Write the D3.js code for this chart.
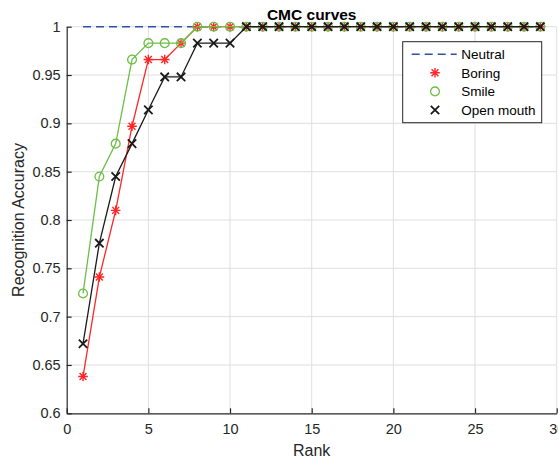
<!DOCTYPE html>
<html>
<head>
<meta charset="utf-8">
<script src="https://cdn.jsdelivr.net/npm/d3@7"></script>
<style>
  body { margin: 0; background: #fff; }
  svg { display: block; font-family: "Liberation Sans", Arial, sans-serif; }
</style>
</head>
<body>
<div id="chart"></div>
<script>
// Rank values 1..29
const ranks = [1,2,3,4,5,6,7,8,9,10,11,12,13,14,15,16,17,18,19,20,21,22,23,24,25,26,27,28,29];

// Recognition accuracy per rank
const neutral   = [1,1,1,1,1,1,1,1,1,1,1,1,1,1,1,1,1,1,1,1,1,1,1,1,1,1,1,1,1];
const boring    = [0.638,0.741,0.810,0.897,0.966,0.966,0.983,1,1,1,1,1,1,1,1,1,1,1,1,1,1,1,1,1,1,1,1,1,1];
const smile     = [0.724,0.845,0.879,0.966,0.983,0.983,0.983,1,1,1,1,1,1,1,1,1,1,1,1,1,1,1,1,1,1,1,1,1,1];
const openMouth = [0.672,0.776,0.845,0.879,0.914,0.948,0.948,0.983,0.983,0.983,1,1,1,1,1,1,1,1,1,1,1,1,1,1,1,1,1,1,1];

const xTicks = [0, 5, 10, 15, 20, 25, 30];
const yTicks = [0.6, 0.65, 0.7, 0.75, 0.8, 0.85, 0.9, 0.95, 1];
const yTickLabels = ["0.6", "0.65", "0.7", "0.75", "0.8", "0.85", "0.9", "0.95", "1"];

const seriesNames = ["Neutral", "Boring", "Smile", "Open mouth"];

const W = 558, H = 463;
const margin = { top: 26.7, right: 1.3, bottom: 49.7, left: 66.7 };
const width = W - margin.left - margin.right;
const height = H - margin.top - margin.bottom;

const svg = d3.select("#chart").append("svg")
    .attr("width", W)
    .attr("height", H);

const g = svg.append("g")
    .attr("transform", `translate(${margin.left}, ${margin.top})`);

const x = d3.scaleLinear().domain([0, 30]).range([0, width]);
const y = d3.scaleLinear().domain([0.6, 1]).range([height, 0]);

const axisColor = "#262626";
const gridColor = "#dfdfdf";

// Grid lines
g.append("g").selectAll("line.vgrid")
    .data(xTicks.slice(1))
    .enter().append("line")
    .attr("x1", d => x(d)).attr("x2", d => x(d))
    .attr("y1", 0).attr("y2", height)
    .attr("stroke", gridColor).attr("stroke-width", 1);

g.append("g").selectAll("line.hgrid")
    .data(yTicks.slice(1))
    .enter().append("line")
    .attr("x1", 0).attr("x2", width)
    .attr("y1", d => y(d)).attr("y2", d => y(d))
    .attr("stroke", gridColor).attr("stroke-width", 1);

// Axes (ticks point inward like MATLAB)
const xAxis = g.append("g")
    .attr("transform", `translate(0, ${height})`)
    .call(d3.axisBottom(x).tickValues(xTicks).tickSize(-5).tickPadding(10).tickSizeOuter(0));

const yAxis = g.append("g")
    .call(d3.axisLeft(y).tickValues(yTicks).tickSize(-5).tickPadding(6).tickSizeOuter(0)
        .tickFormat((d, i) => yTickLabels[i]));

[xAxis, yAxis].forEach(a => {
    a.select(".domain").attr("stroke", axisColor).attr("stroke-width", 1.2);
    a.selectAll(".tick line").attr("stroke", axisColor).attr("stroke-width", 1.2);
    a.selectAll(".tick text")
        .attr("fill", axisColor)
        .style("font-size", "14.5px")
        .style("font-family", "'Liberation Sans', Arial, sans-serif");
});
xAxis.selectAll(".tick text").attr("dy", "0.71em");

// Axis labels and title
g.append("text")
    .attr("x", width / 2)
    .attr("y", height + 43)
    .attr("text-anchor", "middle")
    .attr("fill", axisColor)
    .style("font-size", "16px")
    .text("Rank");

g.append("text")
    .attr("transform", `translate(${-43}, ${height / 2}) rotate(-90)`)
    .attr("text-anchor", "middle")
    .attr("fill", axisColor)
    .style("font-size", "16px")
    .text("Recognition Accuracy");

g.append("text")
    .attr("x", width / 2)
    .attr("y", -7)
    .attr("text-anchor", "middle")
    .attr("fill", "#000")
    .style("font-size", "15.5px")
    .style("font-weight", "bold")
    .text("CMC curves");

// Marker shapes
function drawMarker(sel, type, color) {
    if (type === "star") {
        const r = 4.8, rd = r * 0.72;
        const p = `M${-r},0L${r},0M0,${-r}L0,${r}M${-rd},${-rd}L${rd},${rd}M${-rd},${rd}L${rd},${-rd}`;
        sel.append("path").attr("d", p).attr("stroke", color).attr("stroke-width", 1.4).attr("fill", "none");
    } else if (type === "circle") {
        sel.append("circle").attr("r", 4.4).attr("stroke", color).attr("stroke-width", 1.3).attr("fill", "none");
    } else if (type === "x") {
        const r = 4.2;
        sel.append("path").attr("d", `M${-r},${-r}L${r},${r}M${-r},${r}L${r},${-r}`)
            .attr("stroke", color).attr("stroke-width", 1.8).attr("fill", "none");
    }
}

const series = [
    { name: seriesNames[0], values: neutral,   color: "#3050a5", dash: "8,5", marker: null },
    { name: seriesNames[1], values: boring,    color: "#ff2626", dash: null,  marker: "star" },
    { name: seriesNames[2], values: smile,     color: "#6cbf45", dash: null,  marker: "circle" },
    { name: seriesNames[3], values: openMouth, color: "#1a1a1a", dash: null,  marker: "x" }
];

const line = d3.line()
    .x((d, i) => x(ranks[i]))
    .y(d => y(d));

series.forEach(s => {
    g.append("path")
        .datum(s.values)
        .attr("d", line)
        .attr("fill", "none")
        .attr("stroke", s.color)
        .attr("stroke-width", s.dash ? 1.6 : 1.3)
        .attr("stroke-dasharray", s.dash);

    if (s.marker) {
        g.append("g").selectAll("g")
            .data(s.values)
            .enter().append("g")
            .attr("transform", (d, i) => `translate(${x(ranks[i])}, ${y(d)})`)
            .each(function () { drawMarker(d3.select(this), s.marker, s.color); });
    }
});

// Legend
const lx = 402.7 - margin.left, ly = 41.7 - margin.top;
const legend = g.append("g").attr("transform", `translate(${lx}, ${ly})`);
legend.append("rect")
    .attr("width", 139).attr("height", 81)
    .attr("fill", "#fff").attr("stroke", axisColor).attr("stroke-width", 1);

series.forEach((s, i) => {
    const row = legend.append("g").attr("transform", `translate(0, ${12.5 + i * 18.6})`);
    if (s.dash) {
        row.append("line")
            .attr("x1", 9).attr("x2", 54).attr("y1", 0).attr("y2", 0)
            .attr("stroke", s.color).attr("stroke-width", 1.6).attr("stroke-dasharray", s.dash);
    } else {
        const m = row.append("g").attr("transform", "translate(32.3, 0)");
        drawMarker(m, s.marker, s.color);
    }
    row.append("text")
        .attr("x", 58.5).attr("y", 0).attr("dy", "0.35em")
        .attr("fill", "#000")
        .style("font-size", "13.5px")
        .text(s.name);
});
</script>
</body>
</html>
